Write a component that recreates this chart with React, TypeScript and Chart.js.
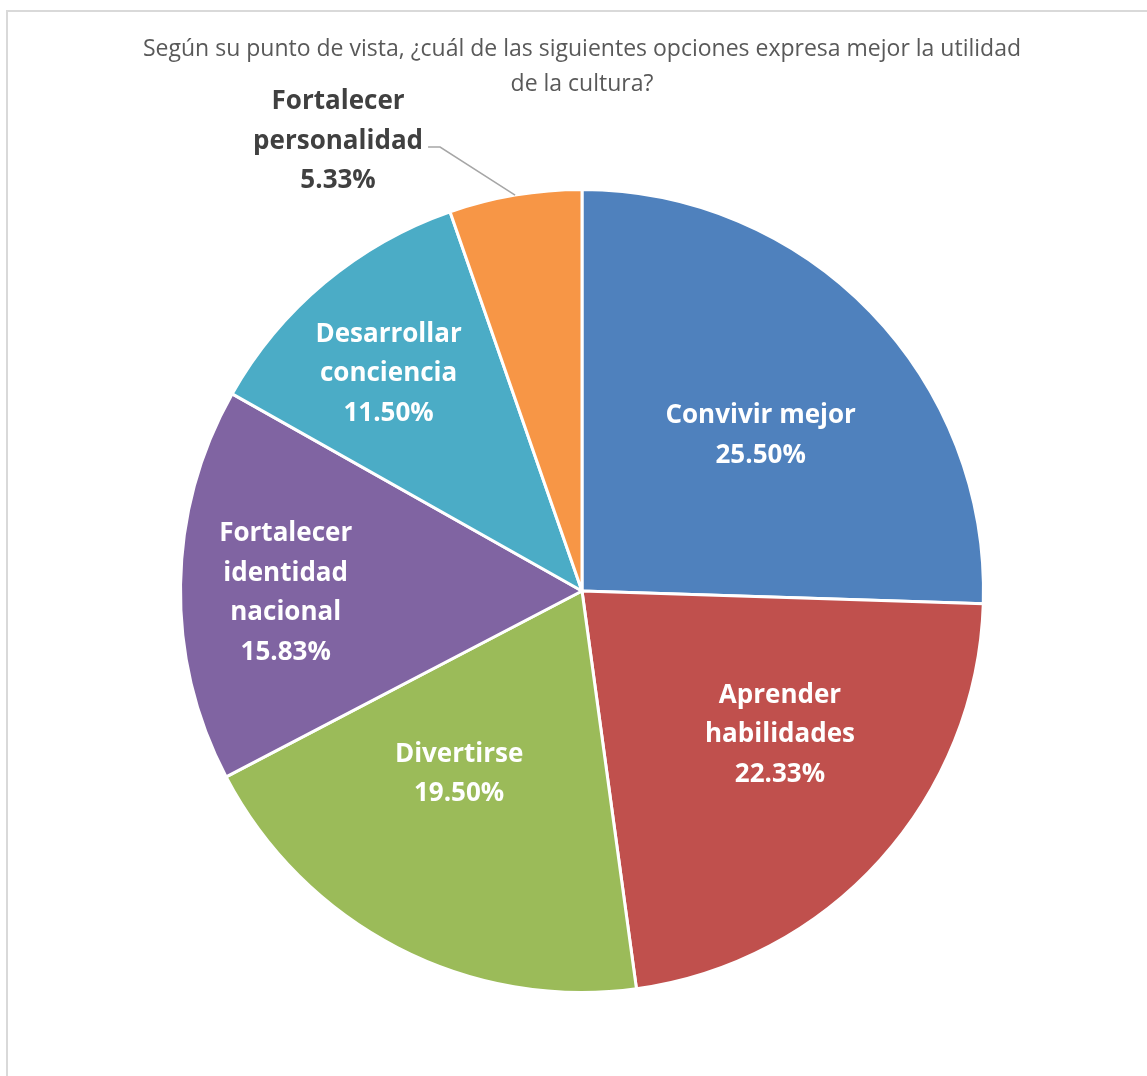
import React, { useEffect, useRef } from "react";
import { Chart, registerables } from "chart.js";

Chart.register(...registerables);

const titleLines = [
  "Según su punto de vista, ¿cuál de las siguientes opciones expresa mejor la utilidad",
  "de la cultura?",
];

const categories = [
  "Convivir mejor",
  "Aprender habilidades",
  "Divertirse",
  "Fortalecer identidad nacional",
  "Desarrollar conciencia",
  "Fortalecer personalidad",
];

const categoryLines = [
  ["Convivir mejor"],
  ["Aprender", "habilidades"],
  ["Divertirse"],
  ["Fortalecer", "identidad", "nacional"],
  ["Desarrollar", "conciencia"],
  ["Fortalecer", "personalidad"],
];

const values = [25.5, 22.33, 19.5, 15.83, 11.5, 5.33];

const colors = ["#4F81BD", "#C0504D", "#9BBB59", "#8064A2", "#4BACC6", "#F79646"];

// label placement: [radius fraction, angle adjustment in degrees, outside?]
const placement: [number, number, boolean][] = [
  [0.595, 2.5, false],
  [0.605, -6.6, false],
  [0.543, 7, false],
  [0.738, -0.7, false],
  [0.73, -1.4, false],
  [1.0, 0, true],
];

const LABEL_FONT = "bold 26px 'Open Sans'";
const LINE_H = 39.5;
const BASE_SHIFT = 3;

const sliceLabels = {
  id: "sliceLabels",
  afterDatasetsDraw(chart: any) {
    const ctx = chart.ctx as CanvasRenderingContext2D;
    const meta = chart.getDatasetMeta(0);
    const ds = chart.data.datasets[0];
    meta.data.forEach((arc: any, i: number) => {
      const { x, y, startAngle, endAngle, outerRadius } = arc.getProps(
        ["x", "y", "startAngle", "endAngle", "outerRadius"],
        true
      );
      const [frac, adj, outside] = placement[i];
      const mid = (startAngle + endAngle) / 2 + (adj * Math.PI) / 180;
      const v = ds.data[i] as number;
      const lines = [...categoryLines[i], v.toFixed(2) + "%"];
      ctx.save();
      ctx.font = LABEL_FONT;
      ctx.textAlign = "center";
      ctx.textBaseline = "middle";
      if (!outside) {
        const cx = x + Math.cos(mid) * outerRadius * frac;
        const cy = y + Math.sin(mid) * outerRadius * frac;
        ctx.fillStyle = "#FFFFFF";
        const top = cy - ((lines.length - 1) * LINE_H) / 2 + BASE_SHIFT;
        lines.forEach((t, k) => ctx.fillText(t, cx, top + k * LINE_H));
      } else {
        const ax = x + Math.cos(mid) * outerRadius;
        const ay = y + Math.sin(mid) * outerRadius;
        ctx.strokeStyle = "#A6A6A6";
        ctx.lineWidth = 1.5;
        ctx.beginPath();
        ctx.moveTo(ax, ay);
        ctx.lineTo(ax - 75, ay - 48);
        ctx.lineTo(ax - 87, ay - 48);
        ctx.stroke();
        ctx.fillStyle = "#404040";
        const cx = ax - 177;
        const cy = ay - 57;
        const top = cy - ((lines.length - 1) * LINE_H) / 2 + BASE_SHIFT;
        lines.forEach((t, k) => ctx.fillText(t, cx, top + k * LINE_H));
      }
      ctx.restore();
    });
  },
};

export default function App() {
  const canvasRef = useRef<HTMLCanvasElement | null>(null);

  useEffect(() => {
    if (!canvasRef.current) return;
    const chart = new Chart(canvasRef.current, {
      type: "pie",
      data: {
        labels: categories,
        datasets: [
          {
            data: values,
            backgroundColor: colors,
            borderColor: "#FFFFFF",
            borderWidth: 3,
          },
        ],
      },
      options: {
        responsive: false,
        animation: false,
        layout: { padding: { top: 10, left: 17, right: 0, bottom: 82 } },
        plugins: {
          legend: { display: false },
          tooltip: { enabled: false },
          title: {
            display: true,
            text: titleLines,
            color: "#595959",
            font: { family: "'Open Sans'", size: 23, weight: "normal", lineHeight: "35px" },
            padding: { top: 22, bottom: 86 },
          },
        },
      },
      plugins: [sliceLabels],
    });
    return () => chart.destroy();
  }, []);

  return (
    <div style={{ position: "absolute", left: 0, top: 0, width: 1147, height: 1076, background: "#fff", overflow: "hidden" }}>
      <div
        style={{
          position: "absolute",
          left: 6,
          top: 10,
          width: 1200,
          height: 1200,
          border: "2px solid #D9D9D9",
          boxSizing: "border-box",
        }}
      />
      <canvas
        ref={canvasRef}
        width={1147}
        height={1076}
        style={{ position: "absolute", left: 0, top: 0, width: 1147, height: 1076 }}
      />
    </div>
  );
}
